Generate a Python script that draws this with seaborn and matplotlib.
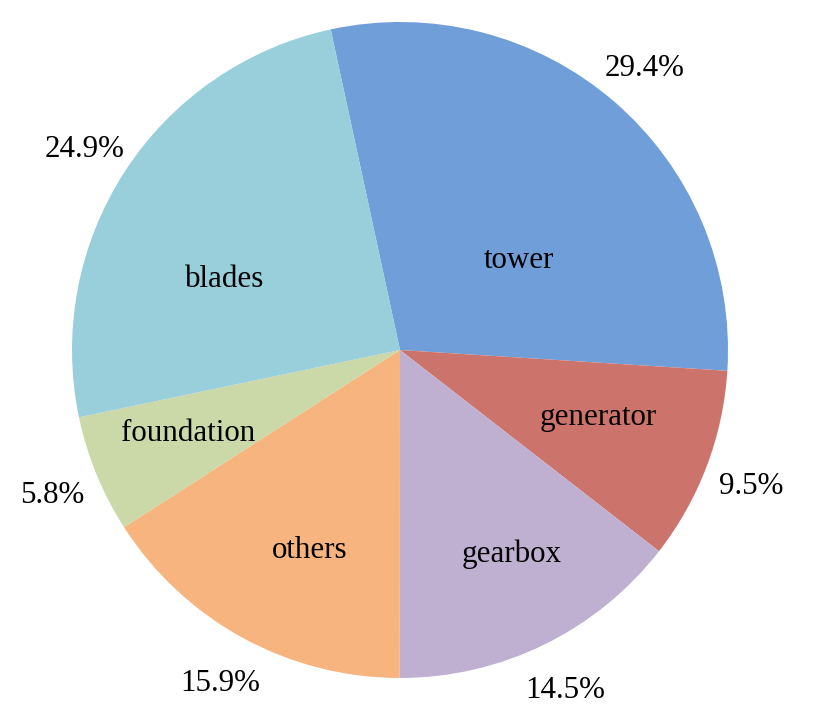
import numpy as np
import matplotlib
matplotlib.use("Agg")
import matplotlib.pyplot as plt
import seaborn as sns

# ---- data ----
components = ["tower", "generator", "gearbox", "others", "foundation", "blades"]
shares = [29.4, 9.5, 14.5, 15.9, 5.8, 24.9]
colors = ["#709ED9", "#CC736B", "#BFB0D2", "#F7B47E", "#CBD9A9", "#99CEDB"]

# ---- styling / layout (not data) ----
# name label placement: (angle from top, clockwise, degrees; radius fraction)
name_pos = {
    "tower": (52, 0.46),
    "generator": (108, 0.635),
    "gearbox": (151, 0.70),
    "others": (204.7, 0.66),
    "foundation": (249.3, 0.69),
    "blades": (293, 0.58),
}

sns.set_theme(style="white")
plt.rcParams["font.family"] = ["Liberation Serif", "DejaVu Serif"]

dpi = 100
fig = plt.figure(figsize=(8.14, 7.14), dpi=dpi)
ax = fig.add_axes([0, 0, 1, 1])

R_PX = 328.0
CX, CY = 400.0, 350.0
FS = 22.3
DY = -0.011  # small downward nudge of text

wedges, _, autotexts = ax.pie(
    shares,
    colors=colors,
    startangle=102.2,
    counterclock=False,
    autopct="%.1f%%",
    pctdistance=1.145,
    wedgeprops=dict(linewidth=0),
    textprops=dict(fontsize=FS, color="black"),
)
for t in autotexts:
    x, y = t.get_position()
    t.set_position((x, y + DY))

for name in components:
    ang, r = name_pos[name]
    th = np.deg2rad(ang)
    ax.text(r * np.sin(th), r * np.cos(th) + DY, name, ha="center", va="center",
            fontsize=FS, color="black")

ax.set_xlim(-CX / R_PX, (814 - CX) / R_PX)
ax.set_ylim(-(714 - CY) / R_PX, CY / R_PX)
ax.set_aspect("equal")
ax.axis("off")

fig.savefig("out.png", dpi=dpi)
